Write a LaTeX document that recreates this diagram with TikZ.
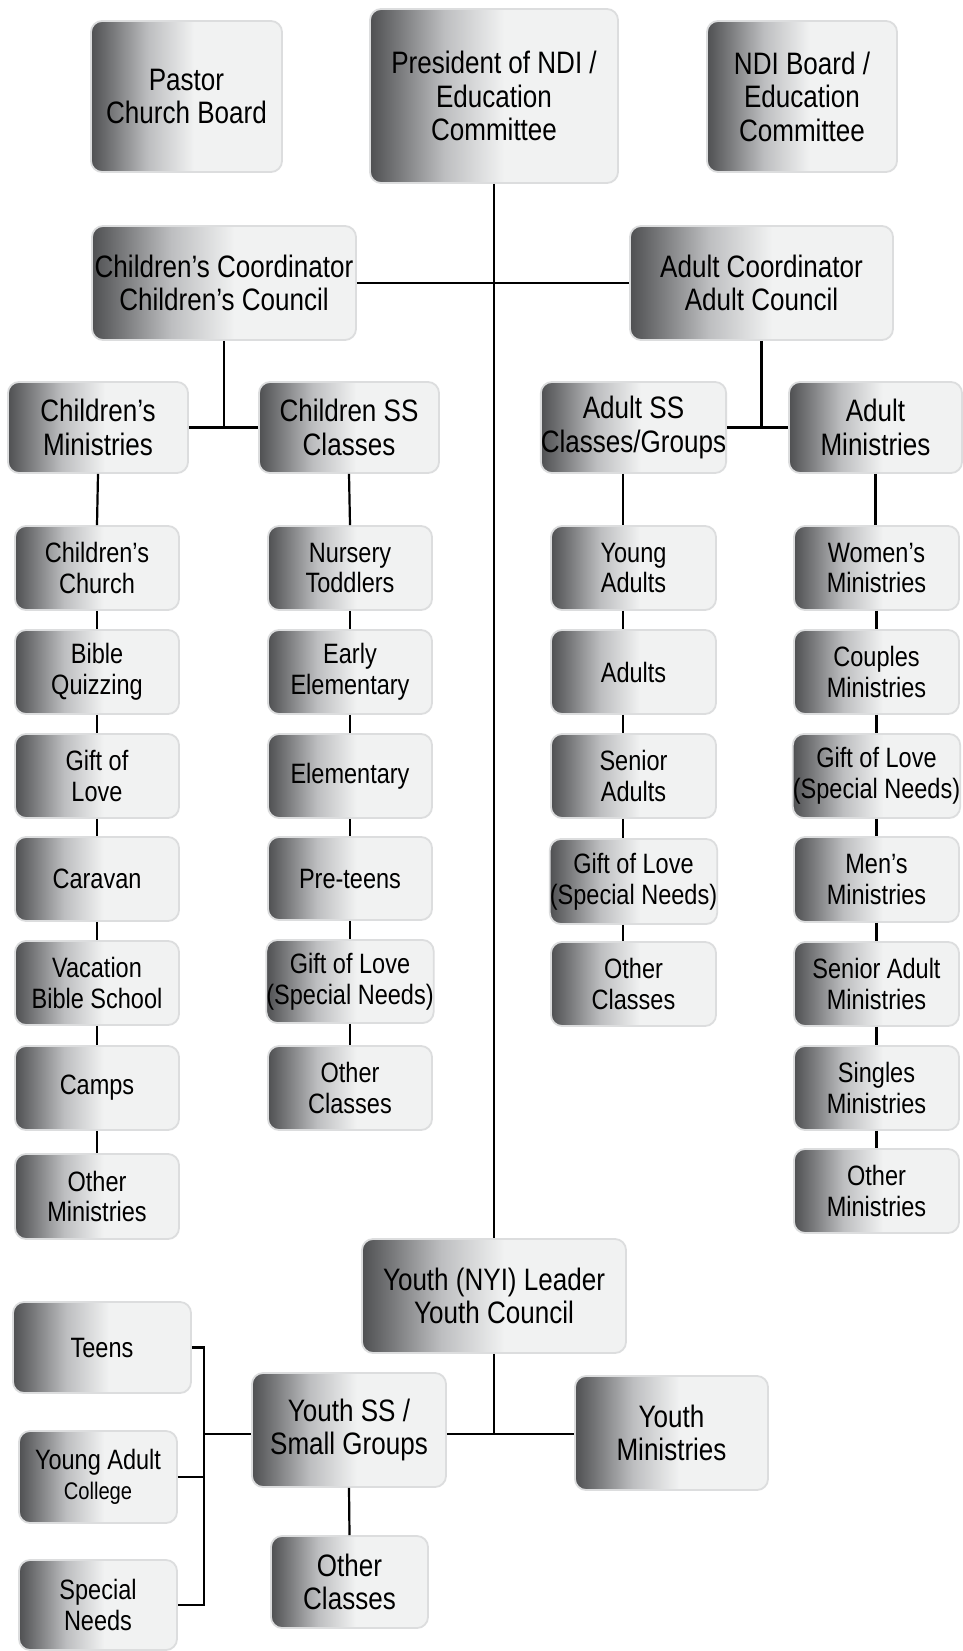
\documentclass[tikz,border=0pt]{standalone}
\usepackage{fontspec}
\setmainfont{Liberation Sans}[FakeStretch=0.84]
\definecolor{gA}{HTML}{4F5052}
\definecolor{gB}{HTML}{7A7B7D}
\definecolor{gC}{HTML}{BDBEC0}
\definecolor{gD}{HTML}{F1F2F2}
\definecolor{boxborder}{HTML}{DCDDDE}
\pgfdeclarehorizontalshading{boxgrad}{100bp}{color(0bp)=(gA); color(25bp)=(gA); color(31bp)=(gB); color(40bp)=(gC); color(52bp)=(gD); color(100bp)=(gD)}
\tikzset{
  box/.style={draw=boxborder, line width=1.8pt, rounded corners=11pt, shading=boxgrad, shading angle=0, align=center, inner sep=0pt, text=black},
  big/.style={box, font=\fontsize{31}{33.5}\selectfont},
  sm/.style={box, font=\fontsize{28}{30.5}\selectfont},
  conn/.style={line width=2.2pt, black}
}
\newcommand{\bx}[7]{\node[#1, minimum width={(#4-#3)*1pt}, minimum height={(#6-#5)*1pt}] (#2) at ({(#3+#4)/2},{(#5+#6)/2}) {#7};}
\begin{document}
\begin{tikzpicture}[x=1pt,y=-1pt]
\useasboundingbox[fill=white] (0,0) rectangle (963,1651);
% top
\bx{big}{pastor}{91}{282}{21}{172}{Pastor\\Church Board}
\bx{big}{pres}{370}{618}{9}{183}{President of NDI /\\Education\\Committee}
\bx{big}{ndi}{707}{897}{21}{172}{NDI Board /\\Education\\Committee}
% coordinators
\bx{big}{ccoord}{92}{356}{226}{340}{Children’s Coordinator\\Children’s Council}
\bx{big}{acoord}{630}{893}{226}{340}{Adult Coordinator\\Adult Council}
% level 3
\bx{big}{cmin}{8}{188}{382}{473}{Children’s\\Ministries}
\bx{big}{css}{259}{439}{382}{473}{Children SS\\Classes}
\bx{big}{ass}{543}{724}{382}{473}{Adult SS\\Classes/Groups}
\bx{big}{amin}{789}{962}{382}{473}{Adult\\Ministries}
% column A
\bx{sm}{a1}{15}{179}{526}{610}{Children’s\\Church}
\bx{sm}{a2}{15}{179}{630}{714}{Bible\\Quizzing}
\bx{sm}{a3}{15}{179}{734}{818}{Gift of\\Love}
\bx{sm}{a4}{15}{179}{837}{921}{Caravan}
\bx{sm}{a5}{15}{179}{941}{1025}{Vacation\\Bible School}
\bx{sm}{a6}{15}{179}{1046}{1130}{Camps}
\bx{sm}{a7}{15}{179}{1154}{1239}{Other\\Ministries}
% column B
\bx{sm}{b1}{268}{432}{526}{610}{Nursery\\Toddlers}
\bx{sm}{b2}{268}{432}{630}{714}{Early\\Elementary}
\bx{sm}{b3}{268}{432}{734}{818}{Elementary}
\bx{sm}{b4}{268}{432}{837}{920}{Pre-teens}
\bx{sm}{b5}{268}{432}{940}{1023}{Gift of Love\\(Special Needs)}
\bx{sm}{b6}{268}{432}{1046}{1130}{Other\\Classes}
% column C
\bx{sm}{c1}{551}{716}{526}{610}{Young\\Adults}
\bx{sm}{c2}{551}{716}{630}{714}{Adults}
\bx{sm}{c3}{551}{716}{734}{818}{Senior\\Adults}
\bx{sm}{c4}{551}{716}{839}{924}{Gift of Love\\(Special Needs)}
\bx{sm}{c5}{551}{716}{942}{1026}{Other\\Classes}
% column D
\bx{sm}{d1}{794}{959}{526}{610}{Women’s\\Ministries}
\bx{sm}{d2}{794}{959}{630}{714}{Couples\\Ministries}
\bx{sm}{d3}{794}{959}{734}{818}{Gift of Love\\(Special Needs)}
\bx{sm}{d4}{794}{959}{837}{922}{Men’s\\Ministries}
\bx{sm}{d5}{794}{959}{942}{1026}{Senior Adult\\Ministries}
\bx{sm}{d6}{794}{959}{1046}{1130}{Singles\\Ministries}
\bx{sm}{d7}{794}{959}{1149}{1233}{Other\\Ministries}
% youth
\bx{big}{yl}{362}{626}{1239}{1353}{Youth (NYI) Leader\\Youth Council}
\bx{big}{yss}{252}{446}{1373}{1487}{Youth SS /\\Small Groups}
\bx{big}{ymin}{575}{768}{1376}{1490}{Youth\\Ministries}
\bx{big}{yoc}{271}{428}{1536}{1628}{Other\\Classes}
\bx{sm}{teens}{13}{191}{1302}{1393}{Teens}
\bx{sm}{yac}{19}{177}{1431}{1523}{Young Adult\\{\fontsize{24}{26}\selectfont College}}
\bx{sm}{sn}{19}{177}{1560}{1650}{Special\\Needs}
% connectors
\draw[conn] (pres.south) -- (yl.north);
\draw[conn] (ccoord.east) -- (acoord.west);
\draw[conn] (cmin.east) -- (css.west);
\draw[conn] (ccoord.south) -- (ccoord.south |- cmin.east);
\draw[conn] (ass.east) -- (amin.west);
\draw[conn] (acoord.south) -- (acoord.south |- ass.east);
\draw[conn] (cmin.south) -- (a1.north);
\foreach \i/\j in {1/2,2/3,3/4,4/5,5/6,6/7} {\draw[conn] (a\i.south) -- (a\j.north);}
\draw[conn] (css.south) -- (b1.north);
\foreach \i/\j in {1/2,2/3,3/4,4/5,5/6} {\draw[conn] (b\i.south) -- (b\j.north);}
\coordinate (cx) at (623,0);
\draw[conn] (ass.south -| cx) -- (c1.north -| cx);
\foreach \i/\j in {1/2,2/3,3/4,4/5} {\draw[conn] (c\i.south -| cx) -- (c\j.north -| cx);}
\draw[conn] (amin.south) -- (amin.south |- d1.north);
\foreach \i/\j in {1/2,2/3,3/4,4/5,5/6,6/7} {\draw[conn] (d\i.south) -- (d\j.north);}
\coordinate (yj) at (494,1434);
\draw[conn] (yl.south) -- (yj);
\draw[conn] (yss.east |- yj) -- (ymin.west |- yj);
\draw[conn] (yss.south) -- (yoc.north);
\coordinate (bj) at (204,1434);
\draw[conn] (teens.east) -- (teens.east -| bj) -- (sn.east -| bj) -- (sn.east);
\draw[conn] (yac.east) -- (yac.east -| bj);
\draw[conn] (bj) -- (yss.west |- bj);
\end{tikzpicture}
\end{document}
